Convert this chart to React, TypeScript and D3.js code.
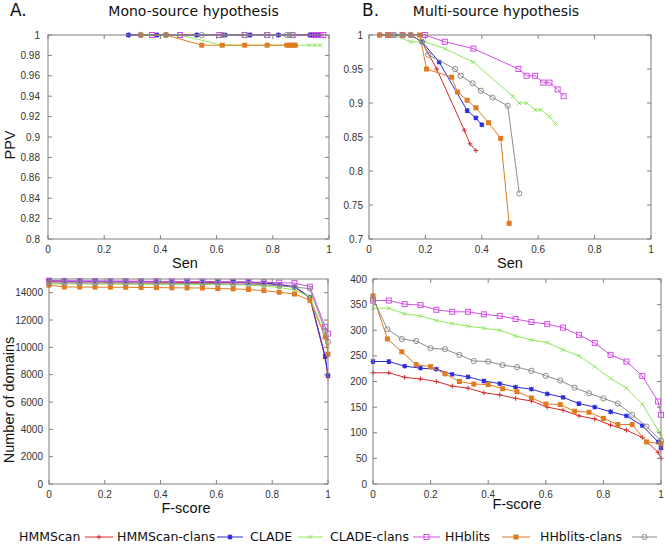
import React from "react";
import * as d3 from "d3";

// ---------- series meta ----------
const seriesNames = ["HMMScan", "HMMScan-clans", "CLADE", "CLADE-clans", "HHblits", "HHblits-clans"];
const seriesColors = ["#d62b2b", "#2b2bd9", "#8fe85c", "#d24fe6", "#e07b22", "#8c8c8c"];
const seriesMarkers = ["plus", "star", "cross", "box", "fbox", "circle"];

// ---------- Panel A (top): Sen vs PPV, mono-source ----------
const monoHMMScan = [[0.29, 1], [0.39, 1], [0.53, 1], [0.62, 1], [0.72, 1], [0.82, 1], [0.93, 1], [0.96, 1], [0.97, 1]];
const monoHMMScanClans = [[0.286, 1], [0.387, 1], [0.529, 1], [0.63, 1], [0.719, 1], [0.82, 1], [0.932, 1], [0.95, 1], [0.96, 1]];
const monoCLADE = [[0.33, 1], [0.42, 1], [0.47, 1], [0.62, 0.99], [0.7, 0.99], [0.78, 0.99], [0.86, 0.99], [0.93, 0.99], [0.95, 0.99], [0.97, 0.99]];
const monoCLADEClans = [[0.37, 1], [0.47, 1], [0.61, 1], [0.7, 1], [0.78, 1], [0.87, 1], [0.94, 1], [0.95, 1], [0.96, 1], [0.97, 1], [0.98, 1]];
const monoHHblits = [[0.33, 1], [0.42, 1], [0.547, 0.99], [0.62, 0.99], [0.7, 0.99], [0.78, 0.99], [0.85, 0.99], [0.86, 0.99], [0.87, 0.99], [0.88, 0.99]];
const monoHHblitsClans = [[0.33, 1], [0.42, 1], [0.547, 1], [0.62, 1], [0.7, 1], [0.78, 1], [0.85, 1], [0.86, 1], [0.87, 1]];

// ---------- Panel B (top): Sen vs PPV, multi-source ----------
const multiHMMScan = [[0.038, 1], [0.068, 1], [0.119, 1], [0.148, 1], [0.188, 0.99], [0.24, 0.95], [0.338, 0.86], [0.358, 0.84], [0.379, 0.83]];
const multiHMMScanClans = [[0.038, 1], [0.068, 1], [0.119, 1], [0.148, 1], [0.188, 0.99], [0.249, 0.96], [0.348, 0.889], [0.379, 0.878], [0.4, 0.868]];
const multiCLADE = [[0.085, 1], [0.148, 0.99], [0.198, 0.99], [0.269, 0.98], [0.37, 0.96], [0.51, 0.91], [0.532, 0.9], [0.559, 0.9], [0.589, 0.89], [0.609, 0.89], [0.64, 0.88], [0.661, 0.87]];
const multiCLADEClans = [[0.068, 1], [0.119, 1], [0.198, 1], [0.269, 0.99], [0.37, 0.98], [0.53, 0.95], [0.559, 0.94], [0.589, 0.94], [0.618, 0.93], [0.64, 0.93], [0.669, 0.92], [0.69, 0.91]];
const multiHHblits = [[0.038, 1], [0.068, 1], [0.119, 1], [0.148, 1], [0.18, 1], [0.204, 0.95], [0.293, 0.938], [0.314, 0.916], [0.348, 0.904], [0.379, 0.893], [0.424, 0.871], [0.467, 0.848], [0.497, 0.723]];
const multiHHblitsClans = [[0.085, 1], [0.091, 1], [0.119, 1], [0.148, 1], [0.188, 0.99], [0.21, 0.971], [0.305, 0.95], [0.325, 0.94], [0.367, 0.929], [0.397, 0.918], [0.438, 0.908], [0.492, 0.896], [0.533, 0.767]];

// ---------- Panel A (bottom): F-score vs number of domains ----------
const fScoreA = [0, 0.055, 0.11, 0.165, 0.22, 0.275, 0.33, 0.385, 0.44, 0.495, 0.55, 0.605, 0.66, 0.715, 0.77, 0.825, 0.88, 0.935, 0.99, 1.0];
const domMonoHMMScan = [14800, 14790, 14790, 14780, 14780, 14770, 14770, 14760, 14760, 14750, 14750, 14740, 14730, 14710, 14680, 14580, 14420, 13600, 9200, 7800];
const domMonoHMMScanClans = [14900, 14850, 14840, 14840, 14830, 14830, 14820, 14820, 14810, 14810, 14800, 14790, 14780, 14760, 14720, 14600, 14440, 13680, 9350, 7950];
const domMonoCLADE = [14650, 14640, 14640, 14630, 14630, 14620, 14620, 14610, 14610, 14600, 14600, 14590, 14580, 14550, 14490, 14380, 14200, 13700, 10900, 10000];
const domMonoCLADEClans = [14880, 14860, 14850, 14850, 14840, 14840, 14830, 14830, 14820, 14820, 14810, 14800, 14790, 14780, 14760, 14730, 14700, 14440, 11500, 11000];
const domMonoHHblits = [14550, 14420, 14410, 14400, 14400, 14390, 14380, 14370, 14360, 14350, 14340, 14300, 14280, 14230, 14150, 14030, 13900, 13450, 10750, 9500];
const domMonoHHblitsClans = [14720, 14710, 14700, 14700, 14700, 14690, 14690, 14680, 14680, 14670, 14670, 14660, 14640, 14620, 14580, 14500, 14400, 14300, 11200, 10400];

// ---------- Panel B (bottom) ----------
const fScoreB1 = [0, 0.055, 0.11, 0.165, 0.22, 0.275, 0.33, 0.385, 0.44, 0.495, 0.55, 0.605, 0.66, 0.715, 0.77, 0.825, 0.88, 0.935, 0.99, 1.0];
const fScoreB2 = [0, 0.05, 0.1, 0.15, 0.2, 0.25, 0.3, 0.35, 0.4, 0.45, 0.5, 0.55, 0.6, 0.65, 0.7, 0.75, 0.8, 0.85, 0.9, 0.95, 1.0];
const domMultiHMMScan = [217, 217, 208, 205, 200, 191, 187, 178, 174, 167, 162, 150, 144, 133, 127, 115, 105, 91, 62, 50];
const domMultiHMMScanClans = [239, 239, 230, 226, 224, 214, 209, 201, 196, 189, 185, 176, 169, 157, 150, 141, 133, 114, 82, 70];
const domMultiCLADE = [343, 343, 332, 328, 319, 313, 308, 304, 300, 289, 281, 276, 262, 250, 229, 206, 187, 156, 105, 93];
const domMultiCLADEClans = [358, 358, 351, 349, 340, 336, 336, 331, 328, 322, 316, 312, 305, 291, 275, 252, 239, 211, 161, 135];
const domMultiHHblits = [367, 283, 258, 233, 229, 215, 200, 195, 194, 186, 180, 168, 156, 155, 142, 140, 128, 116, 116, 82, 79];
const domMultiHHblitsClans = [362, 302, 283, 279, 265, 263, 252, 240, 239, 232, 228, 221, 211, 202, 188, 177, 167, 157, 135, 112, 84];

// ---------- tick labels ----------
const senTicks = [0, 0.2, 0.4, 0.6, 0.8, 1];
const ppvTicksA = [0.8, 0.82, 0.84, 0.86, 0.88, 0.9, 0.92, 0.94, 0.96, 0.98, 1];
const ppvTicksB = [0.7, 0.75, 0.8, 0.85, 0.9, 0.95, 1];
const domTicksA = [0, 2000, 4000, 6000, 8000, 10000, 12000, 14000];
const domTicksB = [0, 50, 100, 150, 200, 250, 300, 350, 400];

const zip = (xs: number[], ys: number[]) => ys.map((y, i) => [xs[i], y]);

const TICK_FONT = "'Liberation Sans', Arial, sans-serif";
const TITLE_FONT = "'DejaVu Sans', sans-serif";
const BORDER = "#808080";

function Marker({ type, x, y, color }: { type: string; x: number; y: number; color: string }) {
  const s = 2.4;
  if (type === "plus")
    return <path d={`M${x - s},${y}H${x + s}M${x},${y - s}V${y + s}`} stroke={color} strokeWidth={1} />;
  if (type === "cross")
    return <path d={`M${x - 2},${y - 2}L${x + 2},${y + 2}M${x - 2},${y + 2}L${x + 2},${y - 2}`} stroke={color} strokeWidth={1} />;
  if (type === "star")
    return (
      <path
        d={`M${x - s},${y}H${x + s}M${x},${y - s}V${y + s}M${x - 2},${y - 2}L${x + 2},${y + 2}M${x - 2},${y + 2}L${x + 2},${y - 2}`}
        stroke={color}
        strokeWidth={1.2}
      />
    );
  if (type === "box")
    return <rect x={x - 2.5} y={y - 2.5} width={5} height={5} fill="none" stroke={color} strokeWidth={1} />;
  if (type === "fbox") return <rect x={x - 2.5} y={y - 2.5} width={5} height={5} fill={color} />;
  return <circle cx={x} cy={y} r={2.6} fill="none" stroke={color} strokeWidth={1} />;
}

type PanelProps = {
  left: number; right: number; top: number; bottom: number;
  xDomain: [number, number]; yDomain: [number, number];
  xTicks: number[]; yTicks: number[];
  series: number[][][];
  yLabelGap: number;
  fmt: (v: number) => string;
};

function Panel(p: PanelProps) {
  const x = d3.scaleLinear().domain(p.xDomain).range([p.left, p.right]);
  const y = d3.scaleLinear().domain(p.yDomain).range([p.bottom, p.top]);
  const line = d3.line<number[]>().x((d) => x(d[0])).y((d) => y(d[1]));
  const tl = 4;
  return (
    <g>
      {p.series.map((pts, i) => (
        <g key={i}>
          <path d={line(pts) || ""} fill="none" stroke={seriesColors[i]} strokeWidth={1} />
          {pts.map((d, j) => (
            <Marker key={j} type={seriesMarkers[i]} x={x(d[0])} y={y(d[1])} color={seriesColors[i]} />
          ))}
        </g>
      ))}
      <rect x={p.left} y={p.top} width={p.right - p.left} height={p.bottom - p.top} fill="none" stroke={BORDER} strokeWidth={1} />
      {p.xTicks.map((t) => (
        <g key={"x" + t}>
          <path d={`M${x(t)},${p.bottom}v${-tl}M${x(t)},${p.top}v${tl}`} stroke={BORDER} />
          <text x={x(t)} y={p.bottom + 14} textAnchor="middle" fontFamily={TICK_FONT} fontSize={10} fill="#333">
            {p.fmt(t)}
          </text>
        </g>
      ))}
      {p.yTicks.map((t) => (
        <g key={"y" + t}>
          <path d={`M${p.left},${y(t)}h${tl}M${p.right},${y(t)}h${-tl}`} stroke={BORDER} />
          <text x={p.left - p.yLabelGap} y={y(t) + 3.5} textAnchor="end" fontFamily={TICK_FONT} fontSize={10} fill="#333">
            {p.fmt(t)}
          </text>
        </g>
      ))}
    </g>
  );
}

const fmtNum = (v: number) => String(+v.toFixed(2));

export default function App() {
  const monoSeries = [monoHMMScan, monoHMMScanClans, monoCLADE, monoCLADEClans, monoHHblits, monoHHblitsClans];
  const multiSeries = [multiHMMScan, multiHMMScanClans, multiCLADE, multiCLADEClans, multiHHblits, multiHHblitsClans];
  const domA = [domMonoHMMScan, domMonoHMMScanClans, domMonoCLADE, domMonoCLADEClans, domMonoHHblits, domMonoHHblitsClans].map((v) => zip(fScoreA, v));
  const domB = [
    zip(fScoreB1, domMultiHMMScan),
    zip(fScoreB1, domMultiHMMScanClans),
    zip(fScoreB1, domMultiCLADE),
    zip(fScoreB1, domMultiCLADEClans),
    zip(fScoreB2, domMultiHHblits),
    zip(fScoreB2, domMultiHHblitsClans),
  ];
  const legendLabelX = [19, 117, 250, 330, 445, 540];
  const legendLine = [[85, 113], [217, 243], [298, 323], [413, 440], [502, 530], [632, 657]];
  const axisTitle = { fontFamily: TICK_FONT, fontSize: 14.5, fill: "#111" } as const;
  return (
    <svg width={665} height={554} style={{ position: "absolute", left: 0, top: 0, background: "#fff" }}>
      <rect width={665} height={554} fill="#fff" />
      <text x={10} y={16} fontFamily={TITLE_FONT} fontSize={17} fill="#111">A.</text>
      <text x={193.5} y={16} textAnchor="middle" fontFamily={TITLE_FONT} fontSize={14} fill="#111">Mono-source hypothesis</text>
      <text x={362} y={16} fontFamily={TITLE_FONT} fontSize={17} fill="#111">B.</text>
      <text x={496} y={16} textAnchor="middle" fontFamily={TITLE_FONT} fontSize={14} fill="#111">Multi-source hypothesis</text>

      <Panel left={48} right={329} top={35} bottom={239} xDomain={[0, 1]} yDomain={[0.8, 1]} xTicks={senTicks} yTicks={ppvTicksA} series={monoSeries} yLabelGap={8} fmt={fmtNum} />
      <Panel left={369} right={651} top={35} bottom={239} xDomain={[0, 1]} yDomain={[0.7, 1]} xTicks={senTicks} yTicks={ppvTicksB} series={multiSeries} yLabelGap={6} fmt={fmtNum} />
      <Panel left={49} right={328} top={279} bottom={484} xDomain={[0, 1]} yDomain={[0, 15000]} xTicks={senTicks} yTicks={domTicksA} series={domA} yLabelGap={6} fmt={fmtNum} />
      <Panel left={373} right={661} top={279} bottom={484} xDomain={[0, 1]} yDomain={[0, 400]} xTicks={senTicks} yTicks={domTicksB} series={domB} yLabelGap={6} fmt={fmtNum} />

      <text x={185} y={268} textAnchor="middle" {...axisTitle}>Sen</text>
      <text x={510} y={268} textAnchor="middle" {...axisTitle}>Sen</text>
      <text x={186} y={513} textAnchor="middle" {...axisTitle}>F-score</text>
      <text x={517} y={509} textAnchor="middle" {...axisTitle}>F-score</text>
      <text transform="translate(15,145) rotate(-90)" textAnchor="middle" {...axisTitle}>PPV</text>
      <text transform="translate(14,400) rotate(-90)" textAnchor="middle" {...axisTitle}>Number of domains</text>

      {seriesNames.map((n, i) => {
        const [a, b] = legendLine[i];
        return (
          <g key={n}>
            <text x={legendLabelX[i]} y={541} fontFamily={TITLE_FONT} fontSize={12.5} fill="#111">{n}</text>
            <line x1={a} x2={b} y1={537} y2={537} stroke={seriesColors[i]} strokeWidth={1} />
            <Marker type={seriesMarkers[i]} x={(a + b) / 2} y={537} color={seriesColors[i]} />
          </g>
        );
      })}
    </svg>
  );
}
